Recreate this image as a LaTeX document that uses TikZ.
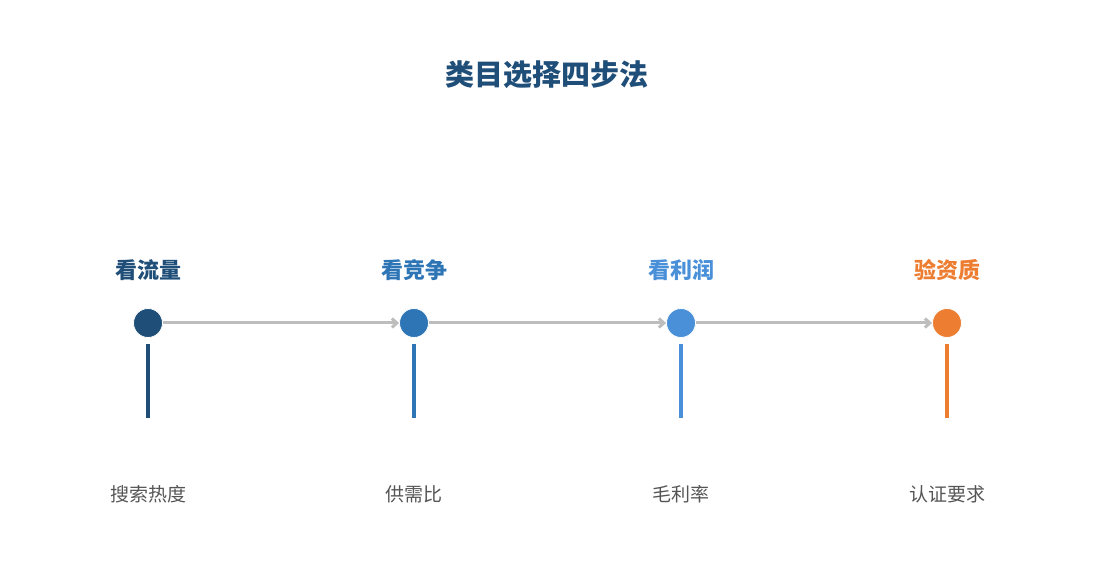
\documentclass[tikz,border=0pt]{standalone}
\usepackage{fontspec}
\setmainfont{Noto Sans CJK SC}
\usetikzlibrary{arrows.meta,positioning}
\definecolor{stepA}{HTML}{1F4E79}
\definecolor{stepB}{HTML}{2E75B6}
\definecolor{stepC}{HTML}{4A90D9}
\definecolor{stepD}{HTML}{ED7D31}
\definecolor{flowgray}{HTML}{BDBDBD}
\definecolor{notegray}{HTML}{555555}
\tikzset{
  dot/.style={circle, fill=#1, draw=white, line width=0.8pt, minimum size=29pt, inner sep=0pt},
  steplabel/.style={font=\fontsize{22}{24}\selectfont\bfseries, text=#1},
  note/.style={font=\fontsize{19}{22}\selectfont, text=notegray},
  flow/.style={draw=flowgray, line width=3pt, -{Straight Barb[length=5pt,width=9pt]}},
  stem/.style={draw=#1, line width=4pt}
}
\begin{document}
\begin{tikzpicture}[x=1pt,y=-1pt]
    \useasboundingbox (0,0) rectangle (1095,585);
    \node[font=\fontsize{29}{32}\selectfont\bfseries, text=stepA] (title) at (547,75) {类目选择四步法};

    % steps
    \foreach \i/\x/\col/\head/\sub in {1/148/stepA/看流量/搜索热度, 2/414/stepB/看竞争/供需比, 3/681/stepC/看利润/毛利率, 4/947/stepD/验资质/认证要求} {
        \node[dot=\col] (d\i) at (\x,323) {};
        \node[steplabel=\col] (h\i) at (\x,270) {\head};
        \node[note] (n\i) at (\x,494) {\sub};
        \coordinate (s\i) at (\x,344);
        \coordinate (e\i) at (\x,418);
        \draw[stem=\col] (s\i) -- (e\i);
    }

    % arrows between steps
    \begin{scope}[on background layer/.style={}]
    \foreach \a/\b in {1/2, 2/3, 3/4}
        \draw[flow] (d\a) -- (d\b);
    \end{scope}
    \foreach \i/\col in {1/stepA, 2/stepB, 3/stepC, 4/stepD}
        \node[dot=\col] at (d\i) {};
\end{tikzpicture}
\end{document}
